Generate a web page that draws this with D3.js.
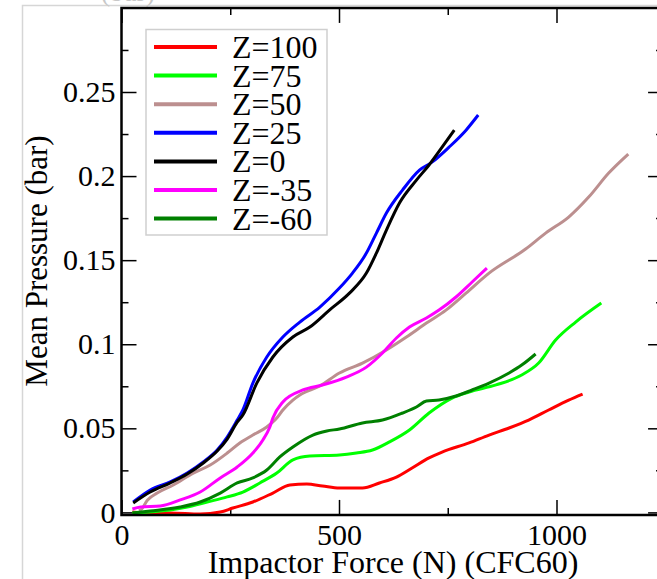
<!DOCTYPE html>
<html>
<head>
<meta charset="utf-8">
<script src="https://cdn.jsdelivr.net/npm/d3@7"></script>
<style>
    body { margin: 0; background: #fff; }
    svg { display: block; font-family: "Liberation Serif", "Times New Roman", serif; }
    .axis .tick text { font-size: 30px; fill: #000; }
    .axis .tick line { stroke: #000; stroke-width: 1.5; }
    .axis path.domain { display: none; }
</style>
</head>
<body>
<div id="chart"></div>
<script>
// Series labels and tick values
const seriesLabels = ["Z=100", "Z=75", "Z=50", "Z=25", "Z=0", "Z=-35", "Z=-60"];
const xTicks = [0, 500, 1000];
const xMinorTicks = [250, 750];
const yTicks = [0, 0.05, 0.1, 0.15, 0.2, 0.25];
const yMinorTicks = [0.025, 0.075, 0.125, 0.175, 0.225, 0.275];

// [Impactor force (N), mean pressure (bar)]
const z100 = [[25,0.0002],[60,-0.0004],[112,-0.0004],[181,-0.001],[227,0.0002],[256,0.0026],[302,0.0062],[348,0.0115],[387,0.0163],[426,0.0169],[462,0.0157],[501,0.0145],[554,0.0145],[593,0.0175],[632,0.021],[668,0.0264],[707,0.0324],[737,0.0359],[799,0.0413],[845,0.046],[891,0.0502],[936,0.0549],[982,0.0609],[1028,0.0668],[1060,0.0704]];
const z75 = [[25,-0.0004],[66,0.0002],[151,0.0032],[197,0.0062],[243,0.0092],[279,0.0121],[318,0.0175],[357,0.0234],[394,0.0312],[433,0.0335],[501,0.0341],[540,0.0353],[577,0.0371],[616,0.0419],[662,0.049],[707,0.0591],[760,0.068],[799,0.0716],[861,0.0758],[920,0.0817],[959,0.0888],[998,0.1025],[1044,0.1132],[1103,0.1245]];
const z50 = [[40,0.001],[44,0.0014],[60,0.0074],[82,0.0115],[119,0.0163],[165,0.0234],[204,0.0282],[243,0.0353],[272,0.0413],[302,0.046],[334,0.0508],[357,0.0561],[371,0.0609],[394,0.0668],[410,0.0698],[456,0.0752],[501,0.0829],[554,0.0888],[609,0.0966],[655,0.1043],[701,0.1126],[746,0.1203],[792,0.1304],[845,0.1423],[929,0.1566],[975,0.1661],[1028,0.1756],[1074,0.1875],[1120,0.2018],[1165,0.2131]];
const z25 = [[27,0.0062],[66,0.0133],[112,0.0181],[151,0.0234],[188,0.03],[220,0.0371],[243,0.0448],[266,0.0549],[279,0.0609],[302,0.0769],[334,0.0924],[371,0.1043],[410,0.1132],[456,0.1221],[501,0.1334],[531,0.1423],[563,0.1542],[586,0.1661],[609,0.178],[646,0.1917],[685,0.2036],[714,0.2083],[753,0.2172],[792,0.2273],[820,0.2363]];
const z0 = [[27,0.0056],[66,0.0121],[112,0.0175],[151,0.0228],[188,0.0294],[220,0.0365],[243,0.0436],[266,0.0537],[279,0.0579],[311,0.0769],[348,0.0924],[394,0.1043],[433,0.1102],[478,0.1203],[524,0.1304],[563,0.1423],[586,0.1542],[609,0.1679],[639,0.184],[678,0.1976],[707,0.2066],[737,0.2172],[765,0.2273]];
const zm35 = [[25,0.002],[44,0.0032],[89,0.0038],[135,0.0074],[181,0.0121],[227,0.0205],[266,0.027],[302,0.0353],[325,0.0431],[341,0.0508],[348,0.0561],[371,0.0657],[417,0.0728],[462,0.0758],[517,0.0805],[563,0.0864],[600,0.0948],[632,0.1037],[662,0.1102],[701,0.1156],[730,0.1203],[769,0.1281],[806,0.137],[840,0.1453]];
const zm60 = [[25,-0.0004],[66,0.0008],[135,0.0032],[181,0.0062],[227,0.0115],[266,0.0175],[302,0.0205],[334,0.0252],[364,0.033],[394,0.0389],[440,0.046],[472,0.0484],[501,0.0496],[554,0.0532],[600,0.0549],[646,0.0591],[678,0.0627],[701,0.0662],[730,0.0668],[769,0.0692],[806,0.0728],[845,0.0769],[891,0.0829],[920,0.0876],[952,0.0942]];

class PressureChart {
    constructor(_config) {
        this.config = {
            parentElement: _config.parentElement,
            containerWidth: 657,
            containerHeight: 579,
            x0: 121.5, x1000: 556.5, xMax: 1245,
            y0: 512.4, y025: 92, yMin: -0.0015, yMax: 0.3,
            colors: ["#ff0000", "#00ff00", "#bc8f8f", "#0000ff", "#000000", "#ff00ff", "#008000"],
            fontFamily: "'Liberation Serif', 'Times New Roman', serif",
            majorTick: 15,
            minorTick: 7
        };
        this.series = [z100, z75, z50, z25, z0, zm35, zm60];
        this.initVis();
    }

    initVis() {
        let vis = this;
        let c = vis.config;

        vis.svg = d3.select(c.parentElement).append("svg")
            .attr("width", c.containerWidth)
            .attr("height", c.containerHeight);

        vis.xScale = d3.scaleLinear().domain([0, 1000]).range([c.x0, c.x1000]);
        vis.yScale = d3.scaleLinear().domain([0, 0.25]).range([c.y0, c.y025]);

        // faint outer border of the original figure
        vis.svg.append("path")
            .attr("d", "M22.5,579V5.5H657")
            .attr("fill", "none")
            .attr("stroke", "#d6d6d6")
            .attr("stroke-width", 1.5);
        vis.svg.append("text")
            .attr("x", 128).attr("y", 1)
            .attr("text-anchor", "middle")
            .attr("font-size", 28)
            .attr("fill", "#c8c8c8")
            .text("(bar)");

        vis.renderVis();
    }

    // add an axis group, keep labels only when asked
    addAxis(axis, transform, keepLabels) {
        let vis = this;
        let g = vis.svg.append("g")
            .attr("class", "axis")
            .attr("transform", transform)
            .call(axis)
            .attr("font-family", vis.config.fontFamily);
        if (!keepLabels) g.selectAll("text").remove();
        return g;
    }

    renderVis() {
        let vis = this;
        let c = vis.config;
        let xL = vis.xScale(0), xR = vis.xScale(c.xMax);
        let yB = vis.yScale(c.yMin), yT = vis.yScale(c.yMax);

        // Axes with inward ticks on all four sides
        vis.addAxis(d3.axisLeft(vis.yScale).tickValues(yTicks).tickFormat(d => String(d))
            .tickSizeInner(-c.majorTick).tickSizeOuter(0).tickPadding(6), `translate(${xL},0)`, true);
        vis.addAxis(d3.axisLeft(vis.yScale).tickValues(yMinorTicks)
            .tickSizeInner(-c.minorTick).tickSizeOuter(0), `translate(${xL},0)`, false);
        vis.addAxis(d3.axisRight(vis.yScale).tickValues(yTicks)
            .tickSizeInner(-c.majorTick).tickSizeOuter(0), `translate(${xR},0)`, false);
        vis.addAxis(d3.axisRight(vis.yScale).tickValues(yMinorTicks)
            .tickSizeInner(-c.minorTick).tickSizeOuter(0), `translate(${xR},0)`, false);

        vis.addAxis(d3.axisBottom(vis.xScale).tickValues(xTicks).tickFormat(d3.format("d"))
            .tickSizeInner(-c.majorTick).tickSizeOuter(0).tickPadding(9), `translate(0,${yB})`, true);
        vis.addAxis(d3.axisBottom(vis.xScale).tickValues(xMinorTicks)
            .tickSizeInner(-c.minorTick).tickSizeOuter(0), `translate(0,${yB})`, false);
        vis.addAxis(d3.axisTop(vis.xScale).tickValues(xTicks)
            .tickSizeInner(-c.majorTick).tickSizeOuter(0), `translate(0,${yT})`, false);
        vis.addAxis(d3.axisTop(vis.xScale).tickValues(xMinorTicks)
            .tickSizeInner(-c.minorTick).tickSizeOuter(0), `translate(0,${yT})`, false);

        // Curves
        let line = d3.line()
            .x(d => vis.xScale(d[0]))
            .y(d => vis.yScale(d[1]))
            .curve(d3.curveMonotoneX);

        vis.svg.append("g").selectAll("path")
            .data(vis.series)
            .join("path")
                .attr("d", line)
                .attr("fill", "none")
                .attr("stroke", (d, i) => c.colors[i])
                .attr("stroke-width", 3)
                .attr("stroke-linejoin", "round");

        // Frame
        vis.svg.append("path")
            .attr("d", `M${xR},${yT}H${xL}V${yB}H${xR}`)
            .attr("fill", "none")
            .attr("stroke", "#000")
            .attr("stroke-width", 2.5);

        // Axis titles
        vis.svg.append("text")
            .attr("x", 393).attr("y", 573)
            .attr("text-anchor", "middle")
            .attr("font-size", 32)
            .text("Impactor Force (N) (CFC60)");
        vis.svg.append("text")
            .attr("transform", "translate(47,261) rotate(-90)")
            .attr("text-anchor", "middle")
            .attr("font-size", 31)
            .text("Mean Pressure (bar)");

        // Legend
        let legend = vis.svg.append("g").attr("transform", "translate(146,29.5)");
        legend.append("rect")
            .attr("width", 181).attr("height", 205.5)
            .attr("fill", "#fff")
            .attr("stroke", "#cfcfcf")
            .attr("stroke-width", 1.5);
        let rows = legend.selectAll("g.row")
            .data(seriesLabels)
            .join("g")
                .attr("class", "row")
                .attr("transform", (d, i) => `translate(0,${17.5 + i * 28.6})`);
        rows.append("line")
            .attr("x1", 8).attr("x2", 71)
            .attr("stroke", (d, i) => c.colors[i])
            .attr("stroke-width", 4);
        rows.append("text")
            .attr("x", 86).attr("y", 11)
            .attr("font-size", 32)
            .text(d => d);
    }
}

new PressureChart({ parentElement: "#chart" });
</script>
</body>
</html>
